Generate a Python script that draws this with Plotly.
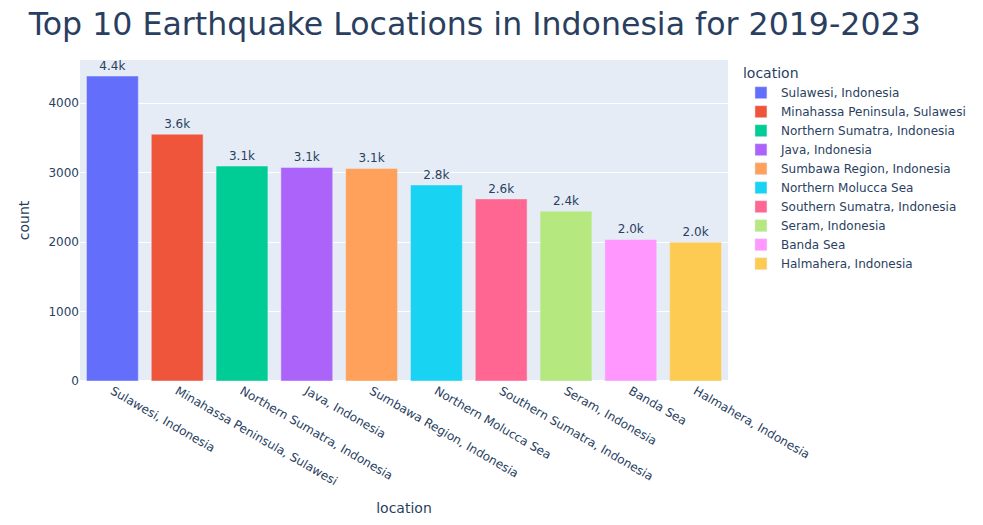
import plotly.graph_objects as go

locations = [
    "Sulawesi, Indonesia",
    "Minahassa Peninsula, Sulawesi",
    "Northern Sumatra, Indonesia",
    "Java, Indonesia",
    "Sumbawa Region, Indonesia",
    "Northern Molucca Sea",
    "Southern Sumatra, Indonesia",
    "Seram, Indonesia",
    "Banda Sea",
    "Halmahera, Indonesia",
]
counts = [4392, 3555, 3096, 3076, 3062, 2823, 2623, 2445, 2039, 1999]
colors = ["#636EFA", "#EF553B", "#00CC96", "#AB63FA", "#FFA15A",
          "#19D3F3", "#FF6692", "#B6E880", "#FF97FF", "#FECB52"]

fig = go.Figure()
for loc, c, col in zip(locations, counts, colors):
    fig.add_trace(go.Bar(
        x=[loc], y=[c], name=loc, marker_color=col,
        texttemplate="%{y:.2s}", textposition="outside",
        legendgroup=loc,
    ))

fig.update_layout(
    template="plotly",
    width=983, height=525,
    font=dict(family="Verdana, DejaVu Sans, sans-serif"),
    title=dict(text="Top 10 Earthquake Locations in Indonesia for 2019-2023",
               x=0.483, xanchor="center", y=0.955, yanchor="middle",
               font=dict(size=31.6)),
    barmode="relative",
    legend=dict(title=dict(text="location"), tracegroupgap=0),
    xaxis=dict(title=dict(text="location"), tickangle=30,
               categoryorder="array", categoryarray=locations),
    yaxis=dict(title=dict(text="count")),
    margin=dict(t=60),
)
fig.write_html("out.html")
